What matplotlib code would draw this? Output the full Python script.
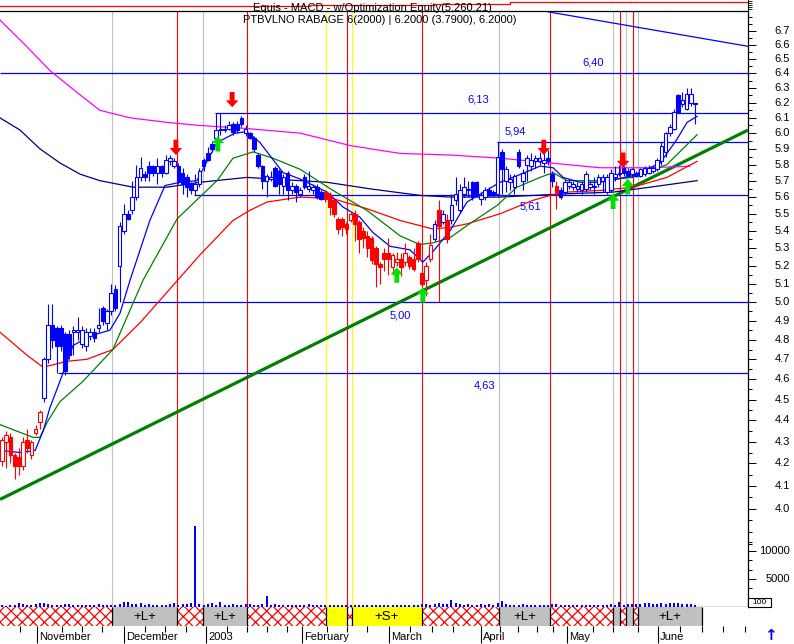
import numpy as np
import matplotlib
matplotlib.use("Agg")
import matplotlib.pyplot as plt
import matplotlib.transforms as mtransforms
from matplotlib.patches import Rectangle
from matplotlib.ticker import FixedLocator, NullFormatter

plt.rcParams['font.family'] = ['Liberation Sans', 'DejaVu Sans']
plt.rcParams['hatch.linewidth'] = 0.9

# ---------------- data (day index = trading day from late Oct 2002) ----------------
opens = [4.21, 4.30, 4.32, 4.24, 4.23, 4.19, 4.31, 4.24, 4.34, 4.39,
         4.51, 4.70, 4.88, 4.86, 4.86, 4.83, 4.83, 4.84, 4.84, 4.78,
         4.77, 4.82, 4.84, 4.86, 4.97, 4.89, 4.95, 5.07, 5.20, 5.40,
         5.50, 5.52, 5.60, 5.72, 5.74, 5.79, 5.79, 5.75, 5.79, 5.75,
         5.82, 5.79, 5.79, 5.75, 5.72, 5.68, 5.64, 5.68, 5.83, 5.87,
         5.93, 5.97, 6.02, 6.02, 6.03, 6.06, 6.06, 6.10, 6.00, 6.00,
         5.97, 5.86, 5.79, 5.70, 5.71, 5.78, 5.76, 5.67, 5.75, 5.64,
         5.67, 5.62, 5.72, 5.65, 5.64, 5.66, 5.63, 5.63, 5.62, 5.58,
         5.47, 5.47, 5.44, 5.46, 5.50, 5.45, 5.40, 5.37, 5.36, 5.30,
         5.21, 5.27, 5.27, 5.19, 5.22, 5.24, 5.22, 5.25, 5.24, 5.33,
         5.16, 5.12, 5.24, 5.35, 5.52, 5.45, 5.46, 5.46, 5.58, 5.52,
         5.62, 5.64, 5.69, 5.69, 5.59, 5.60, 5.64, 5.63, 5.62, 5.88,
         5.70, 5.69, 5.66, 5.88, 5.70, 5.80, 5.79, 5.82, 5.82, 5.81,
         5.84, 5.74, 5.67, 5.64, 5.63, 5.67, 5.66, 5.65, 5.64, 5.65,
         5.66, 5.66, 5.68, 5.70, 5.63, 5.64, 5.72, 5.74, 5.78, 5.76,
         5.74, 5.75, 5.73, 5.74, 5.75, 5.76, 5.77, 5.82, 5.88, 6.00,
         6.03, 6.25, 6.19, 6.16, 6.20, 6.19]
highs = [4.32, 4.35, 4.34, 4.25, 4.27, 4.32, 4.36, 4.31, 4.38, 4.45,
         4.71, 4.99, 4.99, 4.87, 4.88, 4.84, 4.85, 4.87, 4.92, 4.87,
         4.86, 4.86, 4.86, 4.97, 4.98, 4.96, 5.10, 5.09, 5.45, 5.56,
         5.52, 5.70, 5.80, 5.85, 5.76, 5.82, 5.80, 5.84, 5.80, 5.86,
         5.86, 5.84, 5.81, 5.78, 5.74, 5.69, 5.74, 5.78, 5.84, 5.91,
         5.95, 6.13, 6.13, 6.05, 6.08, 6.07, 6.08, 6.11, 6.05, 6.01,
         5.98, 5.87, 5.80, 5.74, 5.76, 5.79, 5.77, 5.74, 5.76, 5.69,
         5.68, 5.66, 5.74, 5.76, 5.68, 5.68, 5.64, 5.64, 5.63, 5.59,
         5.48, 5.48, 5.45, 5.51, 5.52, 5.46, 5.42, 5.40, 5.37, 5.31,
         5.22, 5.30, 5.36, 5.27, 5.28, 5.27, 5.33, 5.26, 5.30, 5.34,
         5.16, 5.22, 5.38, 5.46, 5.58, 5.52, 5.50, 5.62, 5.72, 5.68,
         5.72, 5.70, 5.70, 5.70, 5.63, 5.66, 5.66, 5.64, 5.94, 5.90,
         5.79, 5.74, 5.74, 5.90, 5.77, 5.86, 5.87, 5.86, 5.88, 5.87,
         5.89, 5.76, 5.70, 5.66, 5.71, 5.71, 5.70, 5.69, 5.70, 5.76,
         5.70, 5.72, 5.74, 5.74, 5.74, 5.77, 5.79, 5.80, 5.79, 5.78,
         5.78, 5.76, 5.78, 5.79, 5.80, 5.79, 5.84, 5.94, 6.01, 6.06,
         6.16, 6.26, 6.27, 6.30, 6.30, 6.20]
lows = [4.19, 4.18, 4.20, 4.13, 4.15, 4.17, 4.25, 4.22, 4.33, 4.36,
        4.49, 4.68, 4.76, 4.63, 4.74, 4.62, 4.70, 4.72, 4.80, 4.76,
        4.74, 4.80, 4.79, 4.84, 4.88, 4.85, 4.93, 4.95, 5.00, 5.38,
        5.46, 5.50, 5.58, 5.70, 5.70, 5.70, 5.73, 5.68, 5.72, 5.74,
        5.80, 5.78, 5.68, 5.62, 5.60, 5.62, 5.61, 5.66, 5.76, 5.82,
        5.88, 5.96, 5.99, 6.01, 6.02, 5.99, 6.00, 6.04, 5.98, 5.96,
        5.88, 5.78, 5.65, 5.60, 5.70, 5.66, 5.62, 5.62, 5.58, 5.62,
        5.57, 5.60, 5.65, 5.63, 5.62, 5.59, 5.58, 5.57, 5.49, 5.48,
        5.38, 5.37, 5.38, 5.45, 5.34, 5.27, 5.30, 5.25, 5.21, 5.08,
        5.10, 5.17, 5.15, 5.15, 5.20, 5.14, 5.20, 5.18, 5.17, 5.22,
        5.08, 5.03, 5.22, 5.34, 5.00, 5.44, 5.33, 5.44, 5.55, 5.51,
        5.60, 5.60, 5.58, 5.60, 5.55, 5.58, 5.60, 5.60, 5.60, 5.62,
        5.63, 5.64, 5.62, 5.78, 5.64, 5.70, 5.76, 5.78, 5.80, 5.75,
        5.80, 5.66, 5.53, 5.59, 5.61, 5.65, 5.64, 5.63, 5.62, 5.63,
        5.64, 5.62, 5.66, 5.63, 5.62, 5.63, 5.70, 5.73, 5.73, 5.72,
        5.72, 5.72, 5.72, 5.73, 5.74, 5.75, 5.76, 5.80, 5.85, 5.98,
        6.02, 6.13, 6.17, 6.15, 6.18, 6.06]
closes = [4.31, 4.33, 4.24, 4.19, 4.19, 4.30, 4.27, 4.30, 4.36, 4.44,
          4.70, 4.88, 4.80, 4.77, 4.77, 4.64, 4.72, 4.85, 4.85, 4.85,
          4.84, 4.84, 4.81, 4.88, 4.90, 4.95, 5.05, 4.97, 5.43, 5.50,
          5.47, 5.60, 5.72, 5.78, 5.72, 5.75, 5.75, 5.79, 5.75, 5.83,
          5.84, 5.82, 5.70, 5.68, 5.66, 5.64, 5.68, 5.76, 5.79, 5.83,
          5.90, 6.02, 6.03, 6.03, 6.05, 6.01, 6.02, 6.06, 6.03, 5.97,
          5.90, 5.79, 5.70, 5.73, 5.72, 5.67, 5.68, 5.72, 5.64, 5.67,
          5.63, 5.64, 5.66, 5.67, 5.66, 5.60, 5.59, 5.59, 5.54, 5.50,
          5.41, 5.42, 5.41, 5.50, 5.44, 5.35, 5.36, 5.30, 5.23, 5.21,
          5.19, 5.24, 5.24, 5.26, 5.24, 5.19, 5.27, 5.20, 5.18, 5.24,
          5.10, 5.20, 5.32, 5.44, 5.43, 5.50, 5.35, 5.55, 5.62, 5.64,
          5.66, 5.65, 5.60, 5.62, 5.61, 5.64, 5.61, 5.61, 5.85, 5.77,
          5.77, 5.71, 5.73, 5.79, 5.75, 5.84, 5.83, 5.84, 5.84, 5.83,
          5.82, 5.70, 5.63, 5.60, 5.69, 5.69, 5.68, 5.67, 5.68, 5.74,
          5.68, 5.67, 5.72, 5.72, 5.72, 5.75, 5.74, 5.75, 5.75, 5.73,
          5.77, 5.73, 5.77, 5.78, 5.78, 5.78, 5.83, 5.92, 6.00, 6.04,
          6.14, 6.14, 6.22, 6.26, 6.26, 6.19]
# expert colouring of each bar: r = bearish (red), b = bullish (blue)
bar_trend = list("r" * 10 + "b" * 67 + "r" * 26 + "b" + "r" + "b" + "r" + "b" * 25 + "r" + "b" * 33)
volumes = [300, 250, 350, 400, 650, 550, 300, 350, 600, 700,
           750, 500, 400, 300, 350, 500, 450, 300, 350, 300,
           400, 350, 300, 450, 350, 300, 400, 350, 600, 950,
           900, 500, 450, 800, 400, 550, 350, 400, 300, 350,
           450, 700, 350, 500, 600, 800, 14500, 450, 350, 500,
           700, 400, 900, 400, 350, 450, 400, 350, 500, 550,
           400, 350, 450, 1900, 350, 600, 400, 350, 300, 400,
           350, 300, 400, 450, 350, 300, 350, 400, 300, 350,
           400, 300, 350, 300, 400, 350, 300, 350, 400, 300,
           350, 300, 400, 350, 300, 350, 400, 300, 350, 400,
           600, 500, 400, 550, 800, 500, 450, 1300, 700, 500,
           400, 450, 350, 400, 500, 350, 450, 400, 800, 1100,
           500, 400, 350, 400, 450, 350, 400, 350, 400, 350,
           400, 500, 450, 350, 400, 350, 300, 350, 400, 350,
           350, 400, 350, 300, 400, 450, 350, 900, 400, 500,
           450, 500, 600, 700, 650, 500, 450, 800, 600, 700,
           650, 800, 500, 550, 450, 400]

# moving averages (day index, price)
ma_fast_x = [-0.5, 4.3, 7.9, 9.8, 11.4, 13.8, 16.9, 21.0, 25.7, 28.1, 30.5, 35.2, 38.8, 42.4,
             46.4, 51.2, 55.5, 58.3, 61.4, 66.9, 71.0, 77.4, 81.2, 85.2, 88.3, 92.4, 97.1,
             100.2, 102.6, 106.7, 110.7, 118.6, 122.6, 128.1, 131.2, 133.6, 137.6, 142.4,
             150.2, 156.7, 160.7, 163.1, 165.5]
ma_fast_y = [4.26, 4.25, 4.26, 4.35, 4.46, 4.59, 4.77, 4.82, 4.85, 4.94, 5.12, 5.46, 5.67, 5.69,
             5.70, 5.94, 6.00, 6.01, 5.94, 5.75, 5.71, 5.63, 5.54, 5.48, 5.39, 5.31, 5.29,
             5.22, 5.28, 5.40, 5.57, 5.69, 5.73, 5.79, 5.78, 5.72, 5.69, 5.69,
             5.73, 5.81, 5.96, 6.07, 6.11]
ma_green_x = [-0.5, 7.4, 9.0, 11.0, 13.8, 19.3, 26.4, 33.6, 41.7, 47.1, 51.2, 55.0, 59.8, 64.5,
              71.0, 78.8, 86.9, 94.8, 99.5, 102.6, 106.7, 110.7, 117.9, 122.6, 128.1, 131.2,
              134.5, 142.4, 150.2, 158.3, 165.5]
ma_green_y = [4.38, 4.32, 4.32, 4.40, 4.49, 4.59, 4.75, 5.12, 5.47, 5.60, 5.70, 5.84, 5.88, 5.84,
              5.77, 5.64, 5.52, 5.37, 5.32, 5.33, 5.36, 5.43, 5.55, 5.66, 5.72, 5.75,
              5.70, 5.70, 5.72, 5.80, 5.99]
ma_red_x = [-0.5, 6.0, 9.8, 15.5, 20.2, 26.4, 32.9, 40.7, 47.1, 55.0, 59.0, 63.1, 71.0, 78.8,
            86.9, 94.8, 102.6, 106.7, 110.7, 118.6, 126.4, 130.5, 134.5, 142.4, 150.2, 158.3, 165.5]
ma_red_y = [4.84, 4.72, 4.66, 4.69, 4.70, 4.75, 4.89, 5.09, 5.26, 5.46, 5.52, 5.57, 5.60, 5.59,
            5.53, 5.46, 5.41, 5.42, 5.44, 5.50, 5.58, 5.61, 5.63, 5.64, 5.66, 5.72, 5.82]
ma_navy_x = [-0.5, 4.3, 9.0, 13.8, 18.6, 23.3, 31.2, 39.3, 47.1, 58.3, 71.0, 77.4, 87.6, 99.5,
             106.7, 118.6, 134.5, 145.5, 154.3, 165.5]
ma_navy_y = [6.10, 6.02, 5.90, 5.81, 5.74, 5.70, 5.66, 5.66, 5.69, 5.72, 5.70, 5.69, 5.65, 5.61,
             5.60, 5.60, 5.62, 5.63, 5.66, 5.70]
ma_pink_x = [-0.5, 5.5, 11.4, 17.4, 23.3, 30.5, 39.3, 47.1, 58.3, 71.0, 82.9, 94.8, 106.7, 118.6,
             130.5, 142.4, 154.3, 163.8]
ma_pink_y = [6.78, 6.60, 6.42, 6.28, 6.15, 6.10, 6.07, 6.05, 6.03, 6.00, 5.92, 5.87, 5.86, 5.84,
             5.81, 5.78, 5.78, 5.79]

# trendlines (day index, price)
support_x = [-0.476, 177.62]
support_y = [4.04, 6.02]
resist_x = [130.0, 177.62]
resist_y = [6.84, 6.59]

# horizontal price levels
levels = [6.40, 6.13, 5.94, 5.61, 5.00, 4.63]
level_start = [-0.476, 50.7, 117.9, 45.7, 28.8, 13.3]
level_text = ['6,40', '6,13', '5,94', '5,61', '5,00', '4,63']
level_text_x = [140.7, 113.3, 122.1, 125.7, 94.8, 115.0]
level_text_dy = [7.5, 10.0, 8.0, -8.0, -10.0, -8.5]

# signals
sell_arrow_x = [41.4, 54.8, 129.0, 147.9]
sell_arrow_y = [5.86, 6.17, 5.86, 5.78]
buy_arrow_x = [51.4, 94.0, 100.2, 145.5, 149.0]
buy_arrow_y = [5.98, 5.19, 5.08, 5.62, 5.71]
gray_lines = [26.2, 47.9, 118.3, 145.5, 148.6, 151.4]
red_lines = [41.7, 58.3, 82.1, 100.0, 130.5, 147.1, 150.2]
yellow_lines = [77.1, 83.3]

# state band
band_edges = [-0.476, 26.2, 41.7, 47.9, 58.3, 77.1, 82.1, 83.3, 100.0, 118.3, 130.5,
              145.5, 147.1, 148.6, 150.2, 151.4, 166.7]
band_state = ['x', 'L', 'x', 'L', 'x', 'Y', 'x', 'S', 'x', 'L', 'x', 'G', 'x', 'G', 'x', 'L']

# equity (system) line
equity_x = [-0.476, 73.3, 102.6, 121.0, 177.62]
equity_v = [4300, 4550, 4700, 5260, 5260]

# axis labels
price_ticks = [round(4.0 + 0.1 * k, 1) for k in range(28)]
month_names = ['November', 'December', '2003', 'February', 'March', 'April', 'May', 'June']
month_pos = [8.3, 29.0, 48.6, 71.4, 92.1, 114.0, 134.5, 156.2]
week_pos = [4.3, 14.3, 19.0, 23.8, 34.0, 38.8, 43.8, 53.6, 58.3, 63.1, 67.9, 77.4, 82.1, 86.9,
            97.1, 102.4, 107.4, 118.6, 122.9, 127.4, 131.2, 140.7, 145.5, 151.4, 161.4, 166.7,
            171.7, 176.9]
vol_ticks = [5000, 10000]

# ---------------- layout ----------------
W, H = 794, 644
X_LEFT, X_RIGHT = -0.476, 177.62
BLUE, RED = '#0000ff', '#ff0000'


def rect(x0, y0, x1, y1):
    return [x0 / W, 1 - y1 / H, (x1 - x0) / W, (y1 - y0) / H]


fig = plt.figure(figsize=(W / 100, H / 100), dpi=100)
fig.patch.set_facecolor('white')
ax = fig.add_axes(rect(0, 11, 748, 607))
axv = fig.add_axes(rect(0, 11, 748, 607))
axe = fig.add_axes(rect(0, 0, 748, 11))
axb = fig.add_axes(rect(0, 607, 748, 626))

# ---- price panel ----
ax.set_yscale('log')
ax.set_xlim(X_LEFT, X_RIGHT)
ax.set_ylim(3.597, 6.846)

for xv in gray_lines:
    ax.axvline(xv, color='#c0c0c0', lw=0.8, zorder=1)
for xv in yellow_lines:
    ax.axvline(xv, color='#ffff00', lw=0.8, zorder=1)
for xv in red_lines:
    ax.axvline(xv, color=RED, lw=0.8, zorder=1)

for lv, x0 in zip(levels, level_start):
    ax.hlines(lv, x0, X_RIGHT, colors=BLUE, lw=0.9, zorder=2)
for t, tx, lv, dy in zip(level_text, level_text_x, levels, level_text_dy):
    ax.annotate(t, xy=(tx, lv), xytext=(0, dy), textcoords='offset points',
                ha='center', va='center', color=BLUE, fontsize=8, zorder=8)

ax.plot(support_x, support_y, color='#008000', lw=2.3, zorder=3, solid_capstyle='butt')
ax.plot(resist_x, resist_y, color=BLUE, lw=0.9, zorder=3)

ax.plot(ma_pink_x, ma_pink_y, color='#ff00ff', lw=0.9, zorder=3)
ax.plot(ma_navy_x, ma_navy_y, color='#000080', lw=0.9, zorder=3)
ax.plot(ma_red_x, ma_red_y, color=RED, lw=0.9, zorder=3)
ax.plot(ma_green_x, ma_green_y, color='#008000', lw=0.9, zorder=3)
ax.plot(ma_fast_x, ma_fast_y, color=BLUE, lw=0.9, zorder=3)

idx = np.arange(len(closes))
o = np.array(opens)
c = np.array(closes)
cols = [RED if t == 'r' else BLUE for t in bar_trend]
ax.vlines(idx, lows, highs, colors=cols, lw=0.8, zorder=4)
body_lo = np.minimum(o, c)
body_h = np.maximum(np.abs(c - o), 0.006)
faces = ['white' if cc >= oo else col for oo, cc, col in zip(o, c, cols)]
ax.bar(idx, body_h, bottom=body_lo, width=0.82, color=faces, edgecolor=cols,
       linewidth=0.8, zorder=5)

arrow_style = 'simple,head_length=0.5,head_width=0.9,tail_width=0.35'
for xa, ya in zip(sell_arrow_x, sell_arrow_y):
    ax.annotate('', xy=(xa, ya), xytext=(0, 11), textcoords='offset points',
                arrowprops=dict(arrowstyle=arrow_style, color=RED, lw=0,
                                shrinkA=0, shrinkB=0, mutation_scale=10), zorder=7)
for xa, ya in zip(buy_arrow_x, buy_arrow_y):
    ax.annotate('', xy=(xa, ya), xytext=(0, -11), textcoords='offset points',
                arrowprops=dict(arrowstyle=arrow_style, color='#00e000', lw=0,
                                shrinkA=0, shrinkB=0, mutation_scale=10), zorder=7)

ax.yaxis.set_ticks_position('right')
ax.yaxis.set_major_locator(FixedLocator(price_ticks))
ax.yaxis.set_minor_locator(FixedLocator([round(3.85 + 0.05 * k, 2) for k in range(61)]))
ax.yaxis.set_major_formatter(NullFormatter())
ax.yaxis.set_minor_formatter(NullFormatter())
ax.tick_params(axis='y', which='major', length=5.5, width=0.7, direction='out')
ax.tick_params(axis='y', which='minor', length=3, width=0.7, direction='out')
ax.tick_params(axis='x', which='both', bottom=False, top=False, labelbottom=False)
ax.spines['left'].set_visible(False)
for s in ('top', 'right', 'bottom'):
    ax.spines[s].set_linewidth(0.9)

lab_tr = mtransforms.blended_transform_factory(ax.transAxes, ax.transData) + \
    mtransforms.ScaledTranslation(0.42, 0, fig.dpi_scale_trans)
for v in price_ticks:
    ax.text(1.0, v, f'{v:.1f}', transform=lab_tr, ha='right', va='center',
            fontsize=8, clip_on=False)

# ---- volume (overlay) ----
axv.set_xlim(X_LEFT, X_RIGHT)
axv.set_ylim(0, 596 * 178.6)
axv.patch.set_visible(False)
axv.bar(idx, volumes, width=0.45, color=BLUE, linewidth=0, zorder=2)
for s in axv.spines.values():
    s.set_visible(False)
axv.tick_params(axis='x', which='both', bottom=False, labelbottom=False)
axv.yaxis.set_ticks_position('right')
axv.yaxis.set_major_locator(FixedLocator(vol_ticks))
axv.yaxis.set_minor_locator(FixedLocator([1667, 3333, 6667, 8333, 11667]))
axv.yaxis.set_major_formatter(NullFormatter())
axv.tick_params(axis='y', which='major', length=5.5, width=0.7, direction='out')
axv.tick_params(axis='y', which='minor', length=3, width=0.7, direction='out')
vlab_tr = mtransforms.blended_transform_factory(axv.transAxes, axv.transData) + \
    mtransforms.ScaledTranslation(0.42, 0, fig.dpi_scale_trans)
for v in vol_ticks:
    axv.text(1.0, v, f'{v}', transform=vlab_tr, ha='right', va='center', fontsize=8,
             clip_on=False)

# ---- equity strip ----
axe.set_xlim(X_LEFT, X_RIGHT)
axe.set_ylim(3000, 5700)
axe.step(equity_x, equity_v, where='post', color=RED, lw=0.9)
for s in ('top', 'left', 'bottom'):
    axe.spines[s].set_visible(False)
axe.spines['right'].set_linewidth(0.8)
axe.tick_params(axis='x', which='both', bottom=False, labelbottom=False)
axe.yaxis.set_ticks_position('right')
axe.set_yticks([3500, 4000, 4500, 5000, 5500])
axe.yaxis.set_major_formatter(NullFormatter())
axe.tick_params(axis='y', length=3, width=0.6, direction='out')
axe.patch.set_visible(False)

# ---- state band ----
axb.set_xlim(X_LEFT, X_RIGHT)
axb.set_ylim(0, 1)
for s in axb.spines.values():
    s.set_visible(False)
axb.set_yticks([])
for k, st in enumerate(band_state):
    x0, x1 = band_edges[k], band_edges[k + 1]
    if st == 'x':
        axb.add_patch(Rectangle((x0, 0), x1 - x0, 1, facecolor='white', edgecolor=RED,
                                hatch='xxx', linewidth=0))
    else:
        fc = '#ffff00' if st in ('Y', 'S') else '#c0c0c0'
        axb.add_patch(Rectangle((x0, 0), x1 - x0, 1, facecolor=fc, linewidth=0))
        if st in ('L', 'S'):
            axb.text((x0 + x1) / 2, 0.5, '+L+' if st == 'L' else '+S+', ha='center',
                     va='center', fontsize=9.5)
axb.vlines(band_edges[1:], 0, 1, colors='black', lw=0.9)
axb.set_xticks(month_pos)
axb.set_xticks(week_pos, minor=True)
axb.tick_params(axis='x', which='major', length=12.5, width=0.8, direction='out',
                labelbottom=False)
axb.tick_params(axis='x', which='minor', length=4.5, width=0.8, direction='out')
mon_tr = mtransforms.blended_transform_factory(axb.transData, axb.transAxes) + \
    mtransforms.ScaledTranslation(0.02, 0, fig.dpi_scale_trans)
for name, pos in zip(month_names, month_pos):
    axb.text(pos, -0.6, name, transform=mon_tr, ha='left', va='center', fontsize=8,
             clip_on=False)

# ---- titles and small decorations ----
fig.text(372 / W, 1 - 8 / H, 'Equis - MACD - w/Optimization Equity(5,260.21)',
         ha='center', va='center', fontsize=8)
fig.text(243 / W, 1 - 20 / H, 'PTBVLNO RABAGE 6(2000) | 6.2000 (3.7900), 6.2000)',
         ha='left', va='center', fontsize=8)
fig.patches.append(Rectangle((748 / W, 1 - 607 / H), 23 / W, 9 / H, transform=fig.transFigure,
                             facecolor='white', edgecolor='black', lw=0.8))
fig.text(752 / W, 1 - 602.5 / H, '100', ha='left', va='center', fontsize=6)
fig.text(770 / W, 1 - 636 / H, '\u2191', ha='center', va='center', fontsize=11,
         color=BLUE, fontweight='bold', family='DejaVu Sans')

fig.savefig('out.png', dpi=100)
